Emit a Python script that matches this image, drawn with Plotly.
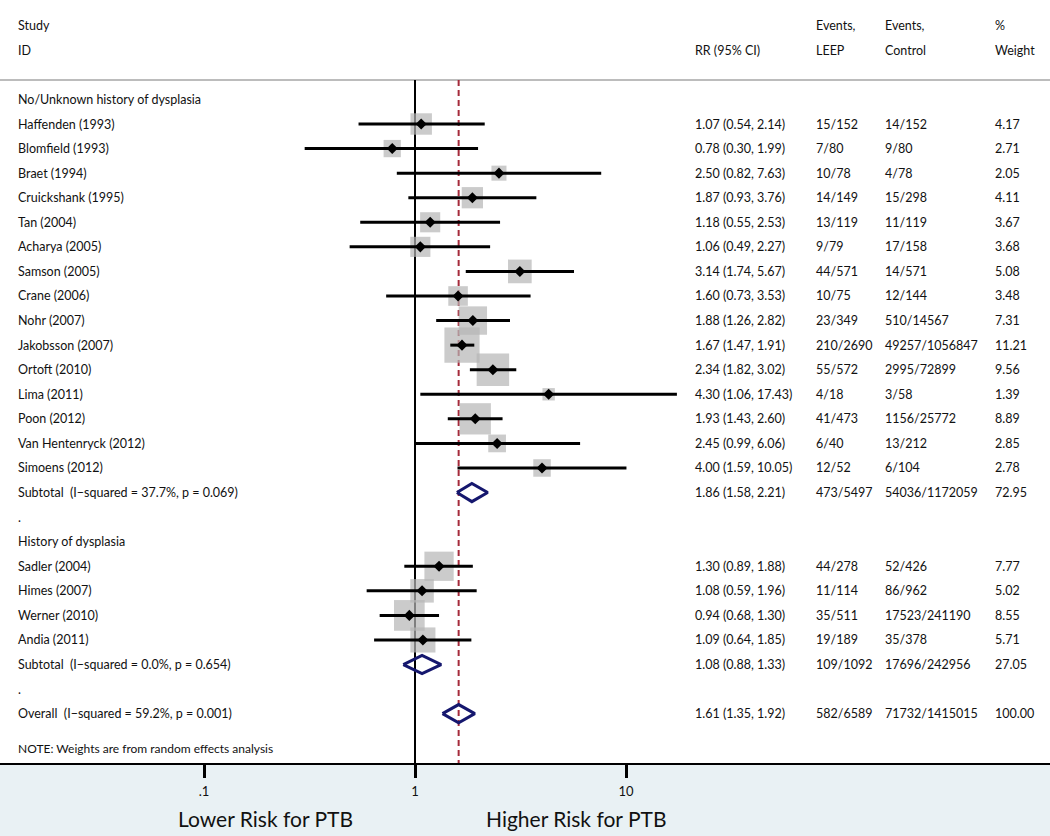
import plotly.graph_objects as go
import math

# ---------------- data ----------------
group1_name = "No/Unknown history of dysplasia"
g1_studies = ["Haffenden (1993)", "Blomfield (1993)", "Braet (1994)", "Cruickshank (1995)",
              "Tan (2004)", "Acharya (2005)", "Samson (2005)", "Crane (2006)", "Nohr (2007)",
              "Jakobsson (2007)", "Ortoft (2010)", "Lima (2011)", "Poon (2012)",
              "Van Hentenryck (2012)", "Simoens (2012)"]
g1_rr = [1.07, 0.78, 2.50, 1.87, 1.18, 1.06, 3.14, 1.60, 1.88, 1.67, 2.34, 4.30, 1.93, 2.45, 4.00]
g1_lo = [0.54, 0.30, 0.82, 0.93, 0.55, 0.49, 1.74, 0.73, 1.26, 1.47, 1.82, 1.06, 1.43, 0.99, 1.59]
g1_hi = [2.14, 1.99, 7.63, 3.76, 2.53, 2.27, 5.67, 3.53, 2.82, 1.91, 3.02, 17.43, 2.60, 6.06, 10.05]
g1_leep = ["15/152", "7/80", "10/78", "14/149", "13/119", "9/79", "44/571", "10/75", "23/349",
           "210/2690", "55/572", "4/18", "41/473", "6/40", "12/52"]
g1_ctrl = ["14/152", "9/80", "4/78", "15/298", "11/119", "17/158", "14/571", "12/144",
           "510/14567", "49257/1056847", "2995/72899", "3/58", "1156/25772", "13/212", "6/104"]
g1_w = [4.17, 2.71, 2.05, 4.11, 3.67, 3.68, 5.08, 3.48, 7.31, 11.21, 9.56, 1.39, 8.89, 2.85, 2.78]
g1_sub = dict(label="Subtotal\u00a0\u00a0(I\u2212squared = 37.7%, p = 0.069)", rr=1.86, lo=1.58, hi=2.21,
              leep="473/5497", ctrl="54036/1172059", w=72.95)

group2_name = "History of dysplasia"
g2_studies = ["Sadler (2004)", "Himes (2007)", "Werner (2010)", "Andia (2011)"]
g2_rr = [1.30, 1.08, 0.94, 1.09]
g2_lo = [0.89, 0.59, 0.68, 0.64]
g2_hi = [1.88, 1.96, 1.30, 1.85]
g2_leep = ["44/278", "11/114", "35/511", "19/189"]
g2_ctrl = ["52/426", "86/962", "17523/241190", "35/378"]
g2_w = [7.77, 5.02, 8.55, 5.71]
g2_sub = dict(label="Subtotal\u00a0\u00a0(I\u2212squared = 0.0%, p = 0.654)", rr=1.08, lo=0.88, hi=1.33,
              leep="109/1092", ctrl="17696/242956", w=27.05)

overall = dict(label="Overall\u00a0\u00a0(I\u2212squared = 59.2%, p = 0.001)", rr=1.61, lo=1.35, hi=1.92,
               leep="582/6589", ctrl="71732/1415015", w=100.00)

note_text = "NOTE: Weights are from random effects analysis"
tick_vals = [0.1, 1, 10]
tick_text = [".1", "1", "10"]
left_label = "Lower Risk for PTB"
right_label = "Higher Risk for PTB"

# ---------------- layout constants ----------------
W, H = 1050, 836
FONT = "Lato, 'Open Sans', sans-serif"
TXT = "#111111"
col_study, col_rr, col_leep, col_ctrl, col_w = 16, 693, 814, 883, 993
px_x1, px_dec = 415.0, 211.0          # pixel of RR=1 and pixels per decade
row0_px, row_px = 124.0, 24.57        # pixel of first study row, row spacing
axis_px = 763.0
sq_k = 10.5
navy = "#15176e"
red = "#a52a3a"

def r_of(px):
    return (px - row0_px) / row_px

# ---------------- build rows ----------------
study_rows, study_rr, study_lo, study_hi, study_w = [], [], [], [], []
annots = []

def add_text(x_px, r, text, size=12.5, anchor="left"):
    annots.append(dict(x=x_px / W, xref="paper", y=r, yref="y", text=text, showarrow=False,
                       xanchor=anchor, yanchor="middle",
                       font=dict(family=FONT, size=size, color=TXT)))

# header
add_text(col_study, -4, "Study")
add_text(col_study, -3, "ID")
add_text(col_rr, -3, "RR (95% CI)")
add_text(col_leep, -4, "Events,")
add_text(col_leep, -3, "LEEP")
add_text(col_ctrl, -4, "Events,")
add_text(col_ctrl, -3, "Control")
add_text(col_w, -4, "%")
add_text(col_w, -3, "Weight")

def add_row(r, label, rr_, lo_, hi_, le_, ct_, w_):
    add_text(col_study, r, label)
    add_text(col_rr, r, f"{rr_:.2f} ({lo_:.2f}, {hi_:.2f})")
    add_text(col_leep, r, le_)
    add_text(col_ctrl, r, ct_)
    add_text(col_w, r, f"{w_:.2f}")

diamonds = []
r = -1
for gname, studies, rr, lo, hi, le, ct, w, sub in [
        (group1_name, g1_studies, g1_rr, g1_lo, g1_hi, g1_leep, g1_ctrl, g1_w, g1_sub),
        (group2_name, g2_studies, g2_rr, g2_lo, g2_hi, g2_leep, g2_ctrl, g2_w, g2_sub)]:
    add_text(col_study, r, gname)
    r += 1
    for i in range(len(studies)):
        add_row(r, studies[i], rr[i], lo[i], hi[i], le[i], ct[i], w[i])
        study_rows.append(r); study_rr.append(rr[i]); study_lo.append(lo[i])
        study_hi.append(hi[i]); study_w.append(w[i])
        r += 1
    add_row(r, sub["label"], sub["rr"], sub["lo"], sub["hi"], sub["leep"], sub["ctrl"], sub["w"])
    diamonds.append((r, sub))
    r += 1
    add_text(col_study, r, ".")
    r += 1

r_over = r
add_row(r_over, overall["label"], overall["rr"], overall["lo"], overall["hi"],
        overall["leep"], overall["ctrl"], overall["w"])
diamonds.append((r_over, overall))

add_text(col_study, r_of(748), note_text, size=12)

# ---------------- traces ----------------
fig = go.Figure()

# weight squares
fig.add_trace(go.Scatter(
    x=study_rr, y=study_rows, mode="markers",
    marker=dict(symbol="square", size=[sq_k * math.sqrt(v) for v in study_w],
                color="#b5b5b5", line=dict(width=0)),
    hoverinfo="skip", showlegend=False))

# CI lines
cx, cy = [], []
for lo_, hi_, rw in zip(study_lo, study_hi, study_rows):
    cx += [lo_, hi_, None]
    cy += [rw, rw, None]
fig.add_trace(go.Scatter(x=cx, y=cy, mode="lines", line=dict(color="black", width=3),
                         hoverinfo="skip", showlegend=False))

# point estimates
fig.add_trace(go.Scatter(
    x=study_rr, y=study_rows, mode="markers",
    marker=dict(symbol="diamond", size=8.5, color="black", line=dict(width=0)),
    hoverinfo="skip", showlegend=False))

# pooled diamonds
dh = 0.37
dx, dy = [], []
for rw, d in diamonds:
    dx += [d["lo"], d["rr"], d["hi"], d["rr"], d["lo"], None]
    dy += [rw, rw - dh, rw, rw + dh, rw, None]
fig.add_trace(go.Scatter(x=dx, y=dy, mode="lines", line=dict(color=navy, width=3),
                         hoverinfo="skip", showlegend=False))

# ---------------- shapes ----------------
sep_r = r_of(80)
shapes = [
    dict(type="line", xref="paper", x0=0, x1=1, yref="y", y0=sep_r, y1=sep_r,
         line=dict(color="#bcbcbc", width=2), layer="below"),
    dict(type="line", xref="x", x0=1, x1=1, yref="y", y0=sep_r, y1=r_of(axis_px),
         line=dict(color="black", width=2), layer="below"),
    dict(type="line", xref="x", x0=overall["rr"], x1=overall["rr"], yref="y",
         y0=sep_r, y1=r_of(axis_px),
         line=dict(color=red, width=2, dash="6px,4px"), layer="below"),
]

# bottom labels
annots.append(dict(x=265.5 / W, xref="paper", y=18 / H, yref="paper", text=left_label,
                   showarrow=False, xanchor="center", yanchor="middle",
                   font=dict(family=FONT, size=21, color=TXT)))
annots.append(dict(x=576 / W, xref="paper", y=18 / H, yref="paper", text=right_label,
                   showarrow=False, xanchor="center", yanchor="middle",
                   font=dict(family=FONT, size=21, color=TXT)))

fig.update_layout(
    width=W, height=H,
    margin=dict(l=0, r=0, t=0, b=0),
    paper_bgcolor="#e9f1f4",
    plot_bgcolor="white",
    showlegend=False,
    shapes=shapes,
    annotations=annots,
    xaxis=dict(type="log",
               range=[(0 - px_x1) / px_dec, (W - px_x1) / px_dec],
               tickvals=tick_vals, ticktext=tick_text,
               ticks="outside", ticklen=13, tickwidth=2.5, tickcolor="black",
               showline=True, linecolor="black", linewidth=2,
               showgrid=False, zeroline=False,
               tickfont=dict(family=FONT, size=13, color=TXT),
               ticklabelstandoff=2, fixedrange=True),
    yaxis=dict(range=[r_of(axis_px), r_of(0)], domain=[(H - axis_px) / H, 1],
               visible=False, showgrid=False, zeroline=False, fixedrange=True),
)

fig.write_html("out.html", config={"displayModeBar": False},
               post_script="document.body.style.margin='0px';document.body.style.overflow='hidden';")
